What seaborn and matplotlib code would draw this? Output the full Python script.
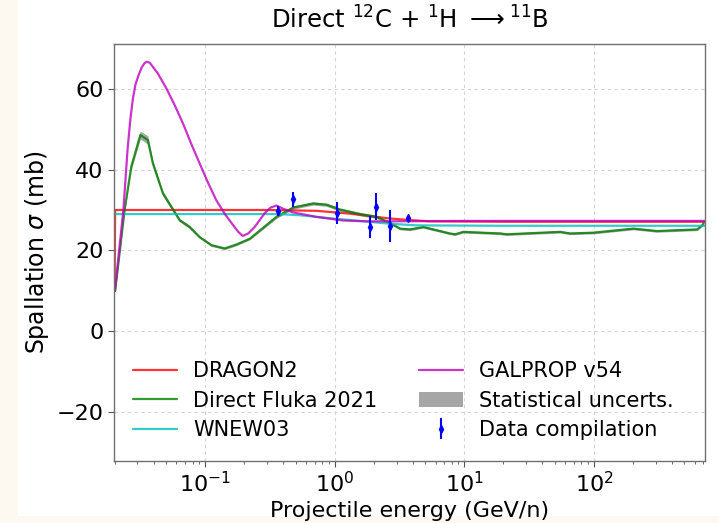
import numpy as np
import matplotlib
matplotlib.use("Agg")
import matplotlib.pyplot as plt
import seaborn as sns

# Cross-section models for 12C + p -> 11B (energies in GeV/n, sigma in mb)
dragon_E = [0.0200, 0.0202, 0.10, 0.30, 0.72, 1.30, 2.67, 3.80, 5.40, 20.0, 100.0, 720.0]
dragon_sigma = [10.0, 30.0, 30.0, 30.0, 29.8, 29.1, 27.9, 27.5, 27.2, 27.1, 27.1, 27.1]

wnew_E = [0.0200, 0.10, 0.37, 0.54, 0.97, 1.56, 2.67, 4.30, 20.0, 100.0, 720.0]
wnew_sigma = [29.0, 29.0, 29.0, 28.7, 27.9, 27.3, 26.6, 26.2, 26.1, 26.1, 26.1]

galprop_E = [0.0201, 0.0234, 0.0252, 0.0265, 0.0277, 0.0290, 0.0308, 0.0325,
             0.0341, 0.0355, 0.0373, 0.0430, 0.0501, 0.0580, 0.0674, 0.0780,
             0.0907, 0.105, 0.122, 0.142, 0.164, 0.180, 0.195, 0.215, 0.241,
             0.265, 0.288, 0.320, 0.355, 0.400, 0.477, 0.723, 1.16, 1.76,
             2.67, 10.0, 100.0, 720.0]
galprop_sigma = [10.0, 30.0, 45.0, 52.5, 57.5, 61.0, 63.5, 65.3,
                 66.3, 66.6, 66.4, 63.8, 60.1, 56.0, 51.4, 46.4,
                 41.5, 36.8, 32.4, 29.0, 26.3, 24.6, 23.6, 24.2, 25.8,
                 27.6, 29.2, 30.6, 31.1, 30.3, 29.4, 28.3, 27.4, 27.2,
                 27.2, 27.3, 27.3, 27.3]

fluka_E = [0.0202, 0.0239, 0.0269, 0.0316, 0.0361, 0.0395, 0.0472, 0.0635,
           0.0759, 0.0907, 0.112, 0.1415, 0.175, 0.221, 0.355, 0.477, 0.681,
           0.864, 1.095, 1.563, 2.10, 2.67, 3.19, 3.81, 4.82, 6.12, 7.75,
           8.48, 9.82, 18.9, 21.3, 54.9, 65.7, 99.4, 202.0, 307.0, 625.0,
           684.0, 704.0]
fluka_sigma = [10.0, 30.0, 40.7, 48.5, 47.3, 41.5, 34.1, 27.5,
               25.8, 23.3, 21.3, 20.5, 21.5, 22.9, 28.3, 30.6, 31.6,
               31.3, 30.1, 29.0, 28.3, 26.8, 25.4, 25.2, 25.8, 25.0, 24.2,
               24.0, 24.6, 24.2, 24.0, 24.6, 24.2, 24.4, 25.4, 24.8, 25.2,
               26.2, 26.8]
fluka_err = [0.3, 0.6, 0.8, 1.0, 1.0, 0.8, 0.6, 0.4,
             0.4, 0.3, 0.3, 0.3, 0.3, 0.3, 0.4, 0.4, 0.4,
             0.4, 0.4, 0.4, 0.4, 0.3, 0.3, 0.3, 0.3, 0.3, 0.3,
             0.3, 0.3, 0.3, 0.3, 0.3, 0.3, 0.3, 0.3, 0.3, 0.3,
             0.3, 0.3]

# Measured cross sections
data_E = [0.365, 0.476, 1.04, 1.86, 2.10, 2.69, 3.68]
data_sigma = [29.8, 32.6, 29.3, 25.8, 30.8, 26.0, 27.9]
data_err = [1.2, 1.9, 2.7, 2.8, 3.3, 3.9, 0.5]

xticks = [0.1, 1, 10, 100]
yticks = [-20, 0, 20, 40, 60]

sns.set_style("white")
plt.rcParams["font.family"] = ["DejaVu Sans"]
plt.rcParams.update({"text.color": "black", "axes.labelcolor": "black",
                     "xtick.color": "black", "ytick.color": "black"})

fig = plt.figure(figsize=(7.19, 5.23), dpi=100, facecolor="#fdf9f1")
fig.patches.append(plt.Rectangle((18 / 719, 7 / 523), 1, 1, transform=fig.transFigure,
                                 facecolor="white", edgecolor="none", zorder=-10))
ax = fig.add_axes([114 / 719, 62 / 523, 591 / 719, 417 / 523])
ax.set_facecolor("white")

lw = 1.6
sns.lineplot(x=dragon_E, y=dragon_sigma, ax=ax, color="red", alpha=0.8, lw=lw,
             label="DRAGON2", estimator=None, sort=False)
sns.lineplot(x=fluka_E, y=fluka_sigma, ax=ax, color="green", alpha=0.8, lw=lw,
             label="Direct Fluka 2021", estimator=None, sort=False)
sns.lineplot(x=wnew_E, y=wnew_sigma, ax=ax, color="c", alpha=0.8, lw=lw,
             label="WNEW03", estimator=None, sort=False)
sns.lineplot(x=galprop_E, y=galprop_sigma, ax=ax, color="m", alpha=0.8, lw=lw,
             label="GALPROP v54", estimator=None, sort=False)

f_lo = np.array(fluka_sigma) - np.array(fluka_err)
f_hi = np.array(fluka_sigma) + np.array(fluka_err)
ax.fill_between(fluka_E, f_lo, f_hi, color="gray", alpha=0.7, lw=0,
                label="Statistical uncerts.")

ax.errorbar(data_E, data_sigma, yerr=data_err, fmt="d", color="blue", ms=4,
            elinewidth=1.5, capsize=0, label="Data compilation", zorder=5)

ax.set_xscale("log")
ax.set_xlim(0.0198, 720)
ax.set_ylim(-32, 71)
ax.set_xticks(xticks)
ax.set_yticks(yticks)
ax.grid(True, which="major", color="#d4d4d4", lw=0.8, dashes=(3, 3))

for s in ax.spines.values():
    s.set_color("#707070")
    s.set_linewidth(1.0)
ax.tick_params(axis="both", which="major", labelsize=16, length=4, width=0.8,
               color="#555555", bottom=True, left=True, direction="out")
ax.tick_params(axis="x", which="minor", length=2, width=0.6, color="#555555", bottom=True)

ax.set_xlabel("Projectile energy (GeV/n)", fontsize=16, labelpad=3)
ax.set_ylabel(r"Spallation $\sigma$ (mb)", fontsize=17, labelpad=4)
ax.set_title(r"Direct $^{12}$C + $^{1}$H $\longrightarrow$$^{11}$B", fontsize=17.5, pad=11)

h, l = ax.get_legend_handles_labels()
order = ["DRAGON2", "Direct Fluka 2021", "WNEW03", "GALPROP v54",
         "Statistical uncerts.", "Data compilation"]
hd = dict(zip(l, h))
ax.legend([hd[k] for k in order], order, ncol=2, loc="lower left", frameon=False,
          fontsize=15, handlelength=2.1, columnspacing=2.0, labelspacing=0.45,
          bbox_to_anchor=(0.0, 0.005))

fig.savefig("out.png", dpi=100, facecolor=fig.get_facecolor())
